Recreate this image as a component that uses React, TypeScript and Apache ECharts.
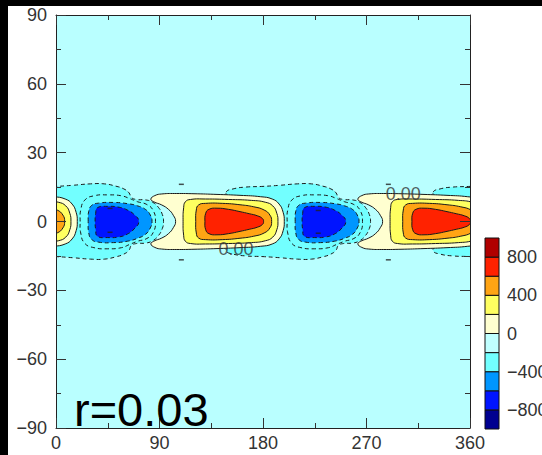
import React, { useEffect, useRef } from "react";
import * as echarts from "echarts";

// ---- axes ----
const lonMin = 0, lonMax = 360, lonStep = 90;
const latMin = -90, latMax = 90, latStep = 30;

// ---- colour levels (colour bar) ----
const levels = [-1000, -800, -600, -400, -200, 0, 200, 400, 600, 800, 1000];
const levelColors = ["#000090", "#0014ff", "#0096ff", "#72ffff", "#c0ffff", "#ffffd0", "#ffff60", "#ffa414", "#ff2200", "#b00000"];
const colorbarLabels = [-800, -400, 0, 400, 800];
const annotation = "r=0.03";

// ---- contour polygons [lon, lat] ----
// negative cell A (centre ~45E)
const negAOuter = [[-32, 12.8], [-26, 14.2], [-15, 15], [0, 15.3], [15, 15.8], [30, 16.4], [42, 16.4], [52, 15.4], [59, 14.2], [63.5, 12.5], [65.5, 10.5], [70, 9.6], [78, 9.4], [84, 8.4], [89, 6.2], [92.5, 3], [93.5, 0], [92.5, -3], [89, -6.2], [84, -8.4], [78, -9.4], [70, -9.6], [65.5, -10.5], [63.5, -12.5], [59, -14.2], [52, -15.4], [42, -16.4], [30, -16.4], [15, -15.8], [0, -15.3], [-15, -15], [-26, -14.2], [-32, -12.8], [-30, -10], [-24, 0], [-30, 10]];
const negASecond = [[21, 0], [21.5, 5], [25, 9.3], [33, 11.2], [45, 11.6], [57, 11.2], [64, 10], [71, 8.6], [79, 7.4], [84.5, 4.8], [86.5, 0], [84.5, -4.8], [79, -7.4], [71, -8.6], [64, -10], [57, -11.4], [45, -11.9], [33, -11.4], [25, -9.5], [21.5, -5]];
const negAAzure = [[28, 0], [28.5, 4.5], [31, 7], [37, 8], [50, 8.3], [62, 7.8], [71, 6.8], [78, 5.2], [82, 2.8], [83.5, 0], [82, -2.8], [78, -5.5], [71, -7.3], [62, -8.6], [50, -9.2], [37, -9], [31, -7.8], [28.5, -5]];
const negABlue = [[34, 0], [34.5, 3.5], [36, 6], [45, 6.6], [55, 6.2], [62, 5], [68, 3], [72, 0], [68, -3.2], [62, -5.5], [55, -6.7], [45, -7], [36, -6.4], [34.5, -3.5]];
// negative cell B (centre ~225E)
const negBOuter = [[148, 12.8], [154, 14.2], [165, 15], [180, 15.3], [195, 15.8], [210, 16.4], [222, 16.4], [232, 15.4], [239, 14.2], [243.5, 12.5], [245.5, 10.5], [250, 9.6], [258, 9.4], [264, 8.4], [269, 6.2], [272.5, 3], [273.5, 0], [272.5, -3], [269, -6.2], [264, -8.4], [258, -9.4], [250, -9.6], [245.5, -10.5], [243.5, -12.5], [239, -14.2], [232, -15.4], [222, -16.4], [210, -16.4], [195, -15.8], [180, -15.3], [165, -15], [154, -14.2], [148, -12.8], [150, -10], [156, 0], [150, 10]];
const negBSecond = [[201, 0], [201.5, 5], [205, 9.3], [213, 11.2], [225, 11.6], [237, 11.2], [244, 10], [251, 8.6], [259, 7.4], [264.5, 4.8], [266.5, 0], [264.5, -4.8], [259, -7.4], [251, -8.6], [244, -10], [237, -11.4], [225, -11.9], [213, -11.4], [205, -9.5], [201.5, -5]];
const negBAzure = [[208, 0], [208.5, 4.5], [211, 7], [217, 8], [230, 8.3], [242, 7.8], [251, 6.8], [258, 5.2], [262, 2.8], [263.5, 0], [262, -2.8], [258, -5.5], [251, -7.3], [242, -8.6], [230, -9.2], [217, -9], [211, -7.8], [208.5, -5]];
const negBBlue = [[214, 0], [214.5, 3.5], [216, 6], [225, 6.6], [235, 6.2], [242, 5], [248, 3], [252, 0], [248, -3.2], [242, -5.5], [235, -6.7], [225, -7], [216, -6.4], [214.5, -3.5]];
// positive cell A (centre ~150E)
const posACream = [[82.5, 9.8], [86, 11.3], [92, 12], [105, 12.2], [120, 12.1], [140, 11.8], [160, 11.4], [178, 10.8], [188, 9.8], [194, 7.6], [197.5, 4], [198.5, 0], [197.5, -4], [194, -7.6], [188, -9.8], [178, -10.8], [160, -11.4], [140, -11.8], [120, -12.1], [105, -12.2], [92, -12], [86, -11.3], [82.5, -9.8], [85, -8.6], [92, -7.2], [98, -5.2], [102, -2.7], [104, 0], [102, 2.7], [98, 5.2], [92, 7.2], [85, 8.6]];
const posAYellow = [[110.5, 0], [111, 6], [112.5, 8.6], [117, 9.6], [130, 9.8], [150, 9.6], [170, 9.2], [182, 8.4], [188.5, 6.8], [192, 3.6], [193, 0], [192, -3.6], [188.5, -6.8], [182, -8.4], [170, -9.2], [150, -9.6], [130, -9.8], [117, -9.6], [112.5, -8.6], [111, -6]];
const posAOrange = [[121.5, 0], [122, 5], [124, 7.2], [130, 7.9], [145, 7.9], [160, 7.3], [172, 6.4], [181, 5], [186, 2.8], [187.5, 0], [186, -2.8], [181, -5], [172, -6.4], [160, -7.3], [145, -7.9], [130, -7.9], [124, -7.2], [122, -5]];
const posARed = [[129.5, 0], [130.2, 3.6], [133, 5.3], [140, 5.8], [150, 5.3], [160, 4.3], [168, 3.4], [175, 2.5], [179.5, 1.3], [180.5, 0], [179.5, -1.3], [175, -2.5], [168, -3.4], [160, -4.3], [150, -5.3], [140, -5.8], [133, -5.3], [130.2, -3.6]];
// positive cell B (centre ~330E, wraps past 360)
const posBCream = [[262.5, 9.8], [266, 11.3], [272, 12], [285, 12.2], [300, 12.1], [320, 11.8], [340, 11.4], [358, 10.8], [368, 9.8], [374, 7.6], [377.5, 4], [378.5, 0], [377.5, -4], [374, -7.6], [368, -9.8], [358, -10.8], [340, -11.4], [320, -11.8], [300, -12.1], [285, -12.2], [272, -12], [266, -11.3], [262.5, -9.8], [265, -8.6], [272, -7.2], [278, -5.2], [282, -2.7], [284, 0], [282, 2.7], [278, 5.2], [272, 7.2], [265, 8.6]];
const posBYellow = [[290.5, 0], [291, 6], [292.5, 8.6], [297, 9.6], [310, 9.8], [330, 9.6], [350, 9.2], [362, 8.4], [368.5, 6.8], [372, 3.6], [373, 0], [372, -3.6], [368.5, -6.8], [362, -8.4], [350, -9.2], [330, -9.6], [310, -9.8], [297, -9.6], [292.5, -8.6], [291, -6]];
const posBOrange = [[301.5, 0], [302, 5], [304, 7.2], [310, 7.9], [325, 7.9], [340, 7.3], [352, 6.4], [361, 5], [366, 2.8], [367.5, 0], [366, -2.8], [361, -5], [352, -6.4], [340, -7.3], [325, -7.9], [310, -7.9], [304, -7.2], [302, -5]];
const posBRed = [[309.5, 0], [310.2, 3.6], [313, 5.3], [320, 5.8], [330, 5.3], [340, 4.3], [348, 3.4], [355, 2.5], [359.5, 1.3], [360.5, 0], [359.5, -1.3], [355, -2.5], [348, -3.4], [340, -4.3], [330, -5.3], [320, -5.8], [313, -5.3], [310.2, -3.6]];

// contour labels and label fragments [lon, lat]
const contourLabels = [[156.5, -11.8], [302, 12]];
const labelMarks = [[109, 16.2], [109, -16.7], [289, 16.2], [289, -16.7], [47, 5.7], [47, -4.7], [228, 4.8], [228, -5.1]];

type Layer = { pts: number[][]; level: number; shift: number; lineOnly: boolean };
const layers: Layer[] = [];
const add = (pts: number[][], level: number, shifts: number[], lineOnly = false) =>
  shifts.forEach((shift) => layers.push({ pts, level, shift, lineOnly }));
add(negAOuter, -200, [0, 360]);
add(negBOuter, -200, [0]);
add(posACream, 0, [0]);
add(posBCream, 0, [0, -360]);
add(negASecond, -300, [0], true);
add(negBSecond, -300, [0], true);
add(negAAzure, -400, [0]);
add(negBAzure, -400, [0]);
add(negABlue, -600, [0]);
add(negBBlue, -600, [0]);
add(posAYellow, 200, [0]);
add(posBYellow, 200, [0, -360]);
add(posAOrange, 400, [0]);
add(posBOrange, 400, [0, -360]);
add(posARed, 600, [0]);
add(posBRed, 600, [0, -360]);

const fillFor = (level: number) => {
  const low = level < 0 ? level - 200 : level;
  return levelColors[levels.indexOf(low)];
};

const FONT = "'Liberation Sans', Arial, Helvetica, sans-serif";
const minus = (v: number) => String(v).replace("-", "\u2212");

export default function App() {
  const ref = useRef<HTMLDivElement>(null);
  useEffect(() => {
    if (!ref.current) return;
    const chart = echarts.init(ref.current, null, { renderer: "svg" });
    const tickStyle = { color: "#333", width: 1 };
    const lineStyle = { color: "#222", width: 1 };
    const labelStyle = { color: "#333", fontSize: 18, fontFamily: FONT };
    const frameAxis = (extra: any) => ({
      type: "value", gridIndex: 0, z: 10,
      axisLine: { show: true, onZero: false, lineStyle }, splitLine: { show: false },
      axisTick: { show: true, inside: true, length: 10, lineStyle: tickStyle },
      minorTick: { show: true, splitNumber: 2, length: 5, lineStyle: tickStyle },
      ...extra,
    });
    chart.setOption({
      animation: false,
      backgroundColor: "#ffffff",
      textStyle: { fontFamily: FONT },
      grid: [
        { left: 56, top: 15, width: 414, height: 413, show: true, backgroundColor: "#b9ffff", borderWidth: 0 },
        { left: 485, top: 238, width: 14, height: 191, show: false },
      ],
      xAxis: [
        frameAxis({ min: lonMin, max: lonMax, interval: lonStep, position: "bottom", axisLabel: { ...labelStyle, margin: 6 } }),
        frameAxis({ min: lonMin, max: lonMax, interval: lonStep, position: "top", axisLabel: { show: false } }),
        { type: "value", gridIndex: 1, min: 0, max: 1, show: false },
      ],
      yAxis: [
        frameAxis({ min: latMin, max: latMax, interval: latStep, position: "left", axisLabel: { ...labelStyle, margin: 9, formatter: minus } }),
        frameAxis({ min: latMin, max: latMax, interval: latStep, position: "right", axisLabel: { show: false } }),
        { type: "value", gridIndex: 1, min: levels[0], max: levels[levels.length - 1], show: false },
      ],
      series: [
        {
          type: "custom",
          xAxisIndex: 0, yAxisIndex: 0,
          clip: true,
          data: layers.map((_, i) => [i, 0]),
          renderItem: (params: any, api: any) => {
            const layer = layers[params.dataIndex];
            const points = layer.pts.map(([lon, lat]) => api.coord([lon + layer.shift, lat]));
            return {
              type: "polygon",
              shape: { points, smooth: 0.5 },
              style: {
                fill: layer.lineOnly ? "none" : fillFor(layer.level),
                stroke: "#1a1a1a",
                lineWidth: 1,
                lineDash: layer.level < 0 ? [4, 3] : null,
              },
            };
          },
        },
        {
          type: "scatter",
          xAxisIndex: 0, yAxisIndex: 0,
          data: labelMarks,
          symbol: "rect",
          symbolSize: [5, 1.5],
          itemStyle: { color: "#222" },
          z: 4,
        },
        {
          type: "scatter",
          xAxisIndex: 0, yAxisIndex: 0,
          data: contourLabels,
          symbolSize: 0,
          z: 5,
          label: { show: true, position: "inside", formatter: "0.00", fontSize: 18, color: "#333", fontFamily: FONT },
        },
        {
          type: "custom",
          xAxisIndex: 2, yAxisIndex: 2,
          data: levelColors.map((_, i) => [i, 0]),
          renderItem: (params: any, api: any) => {
            const i = params.dataIndex;
            const p0 = api.coord([0, levels[i + 1]]);
            const p1 = api.coord([1, levels[i]]);
            const children: any[] = [
              {
                type: "rect",
                shape: { x: p0[0], y: p0[1], width: p1[0] - p0[0], height: p1[1] - p0[1] },
                style: { fill: levelColors[i], stroke: "#111", lineWidth: 1 },
              },
            ];
            if (colorbarLabels.includes(levels[i + 1])) {
              children.push({
                type: "text",
                style: {
                  text: minus(levels[i + 1]), x: p1[0] + 8, y: p0[1],
                  font: `18px ${FONT}`, fill: "#333", textAlign: "left", verticalAlign: "middle",
                },
              });
            }
            return { type: "group", children };
          },
        },
      ],
      graphic: [
        { type: "rect", left: 0, top: 0, shape: { width: 542, height: 6 }, style: { fill: "#000" }, z: 100 },
        { type: "rect", left: 0, top: 0, shape: { width: 8, height: 455 }, style: { fill: "#000" }, z: 100 },
        {
          type: "text", z: 100,
          style: { text: annotation, x: 74, y: 409, font: `47px ${FONT}`, lineHeight: 36, fill: "#000", verticalAlign: "middle", textAlign: "left" },
        },
      ],
    });
    return () => chart.dispose();
  }, []);
  return <div ref={ref} style={{ position: "fixed", left: 0, top: 0, width: 542, height: 455 }} />;
}
